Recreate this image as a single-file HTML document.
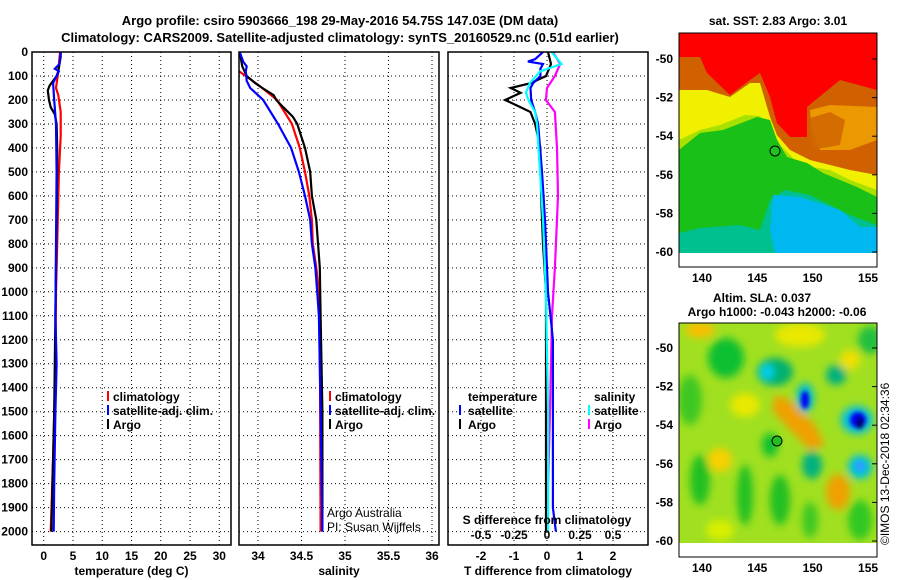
<!DOCTYPE html>
<html><head><meta charset="utf-8">
<style>
html,body{margin:0;padding:0;background:#fff;}
svg{display:block;font-family:"Liberation Sans",sans-serif;font-weight:bold;font-size:12px;}
</style></head>
<body>
<svg id="fig" width="900" height="580" viewBox="0 0 900 580" xmlns="http://www.w3.org/2000/svg">
<defs>
  <clipPath id="cp1"><rect x="32" y="52" width="199" height="493"/></clipPath>
  <clipPath id="cp2"><rect x="239" y="52" width="200" height="493"/></clipPath>
  <clipPath id="cp3"><rect x="448" y="52" width="200" height="493"/></clipPath>
  <clipPath id="cm1"><rect x="679" y="33" width="198" height="220"/></clipPath>
  <clipPath id="cm2"><rect x="679" y="323" width="198" height="220"/></clipPath>
  <filter id="bl" x="-20%" y="-20%" width="140%" height="140%"><feGaussianBlur stdDeviation="4"/></filter>
  <filter id="bl2" x="-20%" y="-20%" width="140%" height="140%"><feGaussianBlur stdDeviation="2"/></filter>
</defs>
<text x="340" y="25" text-anchor="middle" font-size="13">Argo profile: csiro 5903666_198 29-May-2016 54.75S 147.03E (DM data)</text>
<text x="340" y="42" text-anchor="middle" font-size="13">Climatology: CARS2009. Satellite-adjusted climatology: synTS_20160529.nc (0.51d earlier)</text>
<g id="grids"></g>
<g id="lines"></g>
<g id="axes"></g>

<!-- map 1 -->
<g>
  <g clip-path="url(#cm1)">
    <rect x="679" y="33" width="198" height="220" fill="#ff0000"/>
    <polygon fill="#d06000" points="679,57 700,57 707,73 730,95 750,80 760,73 770,97 777,123 790,137 807,137 807,107 840,80 877,90 877,253 679,253"/>
    <polygon fill="#f0f000" points="679,90 707,90 730,97 750,83 760,83 770,117 777,135 790,150 810,160 830,165 850,170 877,175 877,253 679,253"/>
    <polygon fill="#f8b000" points="810,110 830,105 877,107 877,140 850,150 820,150 812,130" opacity="0.7"/>
    <polygon fill="#d06800" points="810,118 830,112 845,120 840,145 812,150" opacity="0.9"/>
    <polygon fill="#a8e000" points="679,140 700,130 720,125 745,115 760,116 770,125 780,145 800,165 830,170 850,180 877,190 877,253 679,253"/>
    <polygon fill="#18c018" points="679,150 700,133 723,130 757,117 770,120 777,140 787,157 807,163 823,173 857,187 877,197 877,253 679,253"/>
    <polygon fill="#00c090" points="679,233 700,228 740,225 760,230 770,200 785,190 810,195 850,215 877,225 877,253 679,253"/>
    <polygon fill="#00b8f0" points="773,195 800,197 840,210 860,227 877,227 877,253 775,253 770,230"/>
  </g>
  <rect x="679" y="33" width="198" height="234" fill="none" stroke="#000"/>
  <circle cx="775" cy="151" r="5" fill="#20c020" stroke="#000"/>
  <text x="778" y="25" text-anchor="middle">sat. SST: 2.83 Argo: 3.01</text>
  <g id="m1ticks"></g>
</g>

<!-- map 2 -->
<g>
  <g clip-path="url(#cm2)">
    <rect x="679" y="323" width="198" height="220" fill="#a0e020"/>
    <g filter="url(#bl)">
      <ellipse cx="700" cy="330" rx="15" ry="8" fill="#f8c000"/>
      <ellipse cx="800" cy="335" rx="25" ry="12" fill="#e8e800"/>
      <ellipse cx="726" cy="358" rx="18" ry="20" fill="#10c030"/>
      <ellipse cx="690" cy="400" rx="12" ry="25" fill="#40c820"/>
      <ellipse cx="745" cy="405" rx="15" ry="12" fill="#e8e800"/>
      <ellipse cx="775" cy="372" rx="18" ry="14" fill="#00b070"/>
      <ellipse cx="767" cy="372" rx="7" ry="8" fill="#00d0f0"/>
      <ellipse cx="836" cy="375" rx="10" ry="10" fill="#00b080"/>
      <ellipse cx="870" cy="340" rx="12" ry="14" fill="#20c040"/>
      <ellipse cx="850" cy="360" rx="10" ry="10" fill="#f0e000"/>
      <ellipse cx="805" cy="398" rx="9" ry="15" fill="#00c0d0"/>
      <ellipse cx="857" cy="420" rx="16" ry="14" fill="#00c0e0"/>
      <polygon points="775,395 790,400 815,425 825,445 810,450 790,430 772,410" fill="#f0a000"/>
      <ellipse cx="720" cy="460" rx="12" ry="12" fill="#f8d000"/>
      <ellipse cx="812" cy="465" rx="10" ry="14" fill="#00b080"/>
      <ellipse cx="838" cy="492" rx="12" ry="18" fill="#f0a000"/>
      <ellipse cx="860" cy="467" rx="12" ry="12" fill="#00c0e0"/>
      <ellipse cx="700" cy="480" rx="10" ry="25" fill="#20c020"/>
      <ellipse cx="745" cy="495" rx="8" ry="30" fill="#20c020"/>
      <ellipse cx="780" cy="500" rx="10" ry="25" fill="#20c020"/>
      <ellipse cx="810" cy="520" rx="8" ry="18" fill="#40c820"/>
      <ellipse cx="860" cy="520" rx="12" ry="20" fill="#30c820"/>
      <ellipse cx="770" cy="445" rx="8" ry="12" fill="#10c030"/>
      <ellipse cx="720" cy="530" rx="14" ry="10" fill="#d8f000"/>
    </g>
    <g filter="url(#bl2)">
      <ellipse cx="805" cy="400" rx="4" ry="9" fill="#0000f0"/>
      <ellipse cx="858" cy="420" rx="8" ry="8" fill="#0000f0"/>
      <ellipse cx="860" cy="423" rx="3" ry="6" fill="#000"/>
      <ellipse cx="860" cy="466" rx="5" ry="5" fill="#30a0ff"/>
    </g>
  </g>
  <rect x="679" y="323" width="198" height="234" fill="none" stroke="#000"/>
  <circle cx="777" cy="441" r="5" fill="#20c020" stroke="#000"/>
  <text x="762" y="302" text-anchor="middle">Altim. SLA: 0.037</text>
  <text x="777" y="316" text-anchor="middle">Argo h1000: -0.043 h2000: -0.06</text>
  <g id="m2ticks"></g>
</g>
<text transform="translate(889,545) rotate(-90)" font-weight="normal" font-size="12">©IMOS 13-Dec-2018 02:34:36</text>

<!-- legends -->
<g>
  <rect x="107" y="391" width="2" height="10" fill="#f00"/><text x="113" y="401">climatology</text>
  <rect x="107" y="405" width="2" height="10" fill="#00f"/><text x="113" y="415">satellite-adj. clim.</text>
  <rect x="107" y="419" width="2" height="10" fill="#000"/><text x="113" y="429">Argo</text>
</g>
<g>
  <rect x="329" y="391" width="2" height="10" fill="#f00"/><text x="335" y="401">climatology</text>
  <rect x="329" y="405" width="2" height="10" fill="#00f"/><text x="335" y="415">satellite-adj. clim.</text>
  <rect x="329" y="419" width="2" height="10" fill="#000"/><text x="335" y="429">Argo</text>
</g>
<text x="327" y="517" font-weight="normal">Argo Australia</text>
<text x="327" y="531" font-weight="normal">PI: Susan Wijffels</text>
<g>
  <text x="468" y="401">temperature</text>
  <rect x="459" y="405" width="2" height="10" fill="#00f"/><text x="468" y="415">satellite</text>
  <rect x="459" y="419" width="2" height="10" fill="#000"/><text x="468" y="429">Argo</text>
  <text x="594" y="401">salinity</text>
  <rect x="588" y="405" width="2" height="10" fill="#0ff"/><text x="594" y="415">satellite</text>
  <rect x="588" y="419" width="2" height="10" fill="#f0f"/><text x="594" y="429">Argo</text>
</g>
<text x="547" y="524" text-anchor="middle">S difference from climatology</text>

<script>
// ---- data ----
const yTicks = [0,100,200,300,400,500,600,700,800,900,1000,1100,1200,1300,1400,1500,1600,1700,1800,1900,2000];
const tTicks = [0,5,10,15,20,25,30];
const sTicks = [34,34.5,35,35.5,36];
const tdTicks = [-2,-1,0,1,2];
const sdTicks = [-0.5,-0.25,0,0.25,0.5];
const sdTickLabels = ['-0.5','-0.25','0','0.25','0.5'];
const latTicks = [-50,-52,-54,-56,-58,-60];
const lonTicks = [140,145,150,155];

const argoTDepth = [0,20,50,80,100,120,140,160,180,200,230,260,300,400,500,700,900,1100,1300,1500,1700,1900,2000];
const argoT      = [2.9,2.9,2.7,2.5,2.2,1.6,1.0,0.7,0.8,0.9,1.2,1.9,2.2,2.3,2.3,2.2,2.1,2.0,1.9,1.8,1.6,1.4,1.3];
const climTDepth = [0,50,100,150,180,250,350,500,800,1000,1300,1600,1850,2000];
const climT      = [2.8,2.6,2.4,2.1,2.5,2.9,2.9,2.6,2.3,2.1,2.0,1.7,1.4,1.2];
const satTDepth  = [0,50,70,80,100,130,200,300,500,800,1100,1300,1500,1800,2000];
const satT       = [2.9,2.7,1.9,2.6,2.2,1.6,1.8,2.1,2.2,2.1,2.0,2.2,2.0,1.8,1.7];

const argoSDepth = [0,60,100,130,150,180,200,230,270,300,400,500,600,700,900,1100,1500,2000];
const argoS      = [33.79,33.82,33.87,33.97,34.05,34.18,34.21,34.29,34.40,34.45,34.54,34.60,34.62,34.67,34.71,34.72,34.74,34.74];
const climSDepth = [80,100,150,200,300,400,500,600,700,800,900,1000,1100,2000];
const climS      = [33.78,33.86,34.05,34.22,34.39,34.48,34.54,34.59,34.62,34.63,34.67,34.70,34.71,34.72];
const satSDepth  = [0,40,60,80,120,150,200,300,400,500,600,700,800,900,1000,1100,1500,2000];
const satS       = [33.79,33.83,33.87,33.86,33.87,33.91,34.06,34.23,34.38,34.47,34.54,34.60,34.62,34.66,34.68,34.70,34.72,34.74];

const argoTdDepth = [0,50,100,130,150,170,200,230,250,300,400,600,800,1000,1400,2000];
const argoTd      = [0.03,0.12,-0.03,-0.5,-1.1,-0.8,-1.27,-0.8,-0.5,-0.36,-0.2,-0.18,-0.12,-0.03,-0.03,-0.03];
const satTdDepth  = [0,30,40,50,70,100,130,150,200,250,300,500,700,1000,1200,1900,2000];
const satTd       = [-0.12,-0.36,-0.58,-0.12,-0.2,-0.2,-0.42,-0.5,-0.48,-0.36,-0.27,-0.15,-0.06,0.03,0.18,0.18,0.27];
const satSdDepth  = [0,50,80,130,170,200,250,300,500,700,1000,1500,2000];
const satSd       = [0.035,0.11,-0.05,-0.13,-0.16,-0.14,-0.09,-0.076,-0.053,-0.03,-0.008,0.008,0.008];
const argoSdDepth = [0,50,100,150,200,250,400,600,900,1100,1500,1800,2000];
const argoSd      = [0.045,0.1,0.06,0,-0.008,0.06,0.076,0.083,0.06,0.038,0.023,0.008,0.0];

// ---- scales ----
const yD  = d => 52 + d*0.2398;
const xT  = t => 43.7 + t*5.853;
const xS  = s => 258 + (s-34)*87;
const xTd = t => 547 + t*33;
const xSd = s => 547 + s*132;
const yLat1 = l => 59 + (-50 - l)*19.3;
const yLat2 = l => 348 + (-50 - l)*19.3;
const xLon = l => 702 + (l-140)*11.07;

const NS='http://www.w3.org/2000/svg';
function mk(tag, attrs, parent){const e=document.createElementNS(NS,tag);for(const k in attrs)e.setAttribute(k,attrs[k]);parent.appendChild(e);return e;}
const G=document.getElementById('grids'), L=document.getElementById('lines'), A=document.getElementById('axes');

const panels=[
 {x0:32,x1:231,cp:'cp1',xs:xT,ticks:tTicks,name:'temperature-panel',lab:'temperature (deg C)'},
 {x0:239,x1:439,cp:'cp2',xs:xS,ticks:sTicks,name:'salinity-panel',lab:'salinity'},
 {x0:448,x1:648,cp:'cp3',xs:xTd,ticks:tdTicks,name:'difference-panel',lab:'T difference from climatology'}
];
panels.forEach((p,pi)=>{
  yTicks.forEach(d=>{
    const l=mk('line',{x1:p.x0,x2:p.x1,y1:yD(d),y2:yD(d),stroke:'#000','stroke-width':1,'stroke-dasharray':'1,3'},G);
    
    
  });
  p.ticks.forEach(v=>{
    const l=mk('line',{x1:p.xs(v),x2:p.xs(v),y1:52,y2:545,stroke:'#000','stroke-width':1,'stroke-dasharray':'1,3'},G);
    
    
    const t=mk('text',{x:p.xs(v),y:560,'text-anchor':'middle'},A);
    t.textContent=String(v);
    
    
  });
  const r=mk('rect',{x:p.x0,y:52,width:p.x1-p.x0,height:493,fill:'none',stroke:'#000','stroke-width':1.5},A);
  
  
  const t=mk('text',{x:(p.x0+p.x1)/2,y:575,'text-anchor':'middle'},A);
  t.textContent=p.lab;
  
  
});
yTicks.forEach(d=>{
  const t=mk('text',{x:28,y:yD(d)+4,'text-anchor':'end'},A);
  t.textContent=String(d);
  
  
});
sdTicks.forEach((v,i)=>{
  const t=mk('text',{x:xSd(v),y:539,'text-anchor':'middle'},A);
  t.textContent=sdTickLabels[i];
  
  
});

function series(depths, vals, xs, color, cp, name){
  const pts=depths.map((d,i)=>xs(vals[i]).toFixed(1)+','+yD(d).toFixed(1)).join(' ');
  const pl=mk('polyline',{points:pts,fill:'none',stroke:color,'stroke-width':2.2,'clip-path':'url(#'+cp+')'},L);
  
  
}
series(climTDepth,climT,xT,'#f00','cp1','temperature-climatology-line');
series(argoTDepth,argoT,xT,'#000','cp1','temperature-argo-line');
series(satTDepth,satT,xT,'#00f','cp1','temperature-satellite-line');
series(climSDepth,climS,xS,'#f00','cp2','salinity-climatology-line');
series(argoSDepth,argoS,xS,'#000','cp2','salinity-argo-line');
series(satSDepth,satS,xS,'#00f','cp2','salinity-satellite-line');
series(argoSdDepth,argoSd,xSd,'#f0f','cp3','s-diff-argo-line');
series(argoTdDepth,argoTd,xTd,'#000','cp3','t-diff-argo-line');
series(satTdDepth,satTd,xTd,'#00f','cp3','t-diff-satellite-line');
series(satSdDepth,satSd,xSd,'#0ff','cp3','s-diff-satellite-line');

function mapTicks(id,yl,bottom){
  const g=document.getElementById(id);
  latTicks.forEach(l=>{
    const t=mk('text',{x:673,y:yl(l)+4,'text-anchor':'end'},g);
    t.textContent=String(l);
    
    
    mk('line',{x1:877,x2:872,y1:yl(l),y2:yl(l),stroke:'#000'},g);
  });
  lonTicks.forEach(l=>{
    const t=mk('text',{x:xLon(l),y:bottom+15,'text-anchor':'middle'},g);
    t.textContent=String(l);
    
    
  });
}
mapTicks('m1ticks',yLat1,267);
mapTicks('m2ticks',yLat2,557);
</script>
</svg>
</body></html>
